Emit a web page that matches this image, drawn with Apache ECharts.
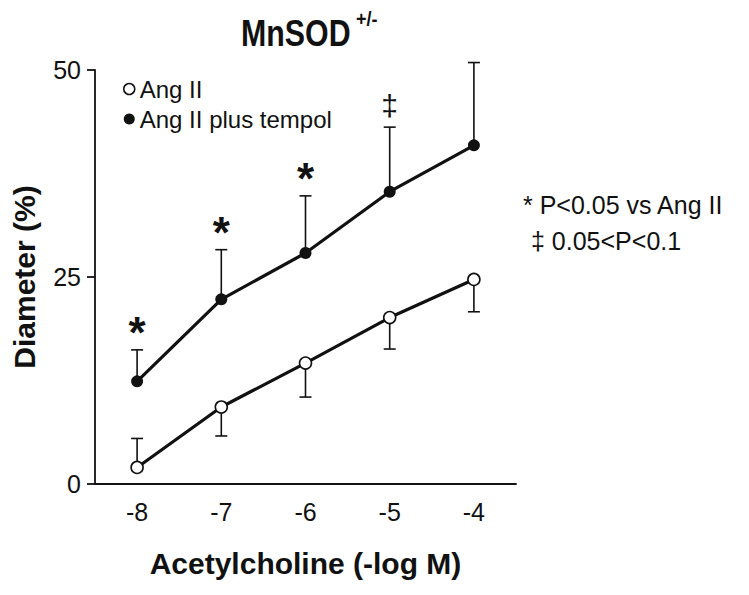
<!DOCTYPE html>
<html>
<head>
<meta charset="utf-8">
<script src="https://cdn.jsdelivr.net/npm/echarts@6/dist/echarts.min.js"></script>
<style>
html,body{margin:0;padding:0;background:#fff;}
#main{width:749px;height:595px;}
</style>
</head>
<body>
<div id="main"></div>
<script>
// ---- data ----
var categories = ['-8', '-7', '-6', '-5', '-4'];
var angII = [2.0, 9.3, 14.6, 20.1, 24.7];
var angIIErrEnd = [5.5, 5.8, 10.5, 16.3, 20.8];
var tempol = [12.4, 22.3, 27.9, 35.3, 40.9];
var tempolErrEnd = [16.2, 28.3, 34.8, 43.1, 50.9];
var marks = ['*', '*', '*', '\u2021', ''];
var yTicks = [0, 25, 50];

var FONT = '"Liberation Sans", Arial, Helvetica, sans-serif';
var INK = '#111';

function errData(vals, ends) {
  return vals.map(function (v, i) { return [i, v, ends[i]]; });
}

function renderErr(params, api) {
  var s = api.coord([api.value(0), api.value(1)]);
  var e = api.coord([api.value(0), api.value(2)]);
  var hw = 6;
  return {
    type: 'group',
    children: [
      { type: 'line', shape: { x1: s[0], y1: s[1], x2: e[0], y2: e[1] }, style: { stroke: INK, lineWidth: 1.6 } },
      { type: 'line', shape: { x1: e[0] - hw, y1: e[1], x2: e[0] + hw, y2: e[1] }, style: { stroke: INK, lineWidth: 1.6 } }
    ]
  };
}

function renderMark(params, api) {
  var i = api.value(0);
  var txt = marks[i];
  if (!txt) { return null; }
  var p = api.coord([i, api.value(1)]);
  var isStar = txt === '*';
  return {
    type: 'text',
    x: p[0],
    y: p[1] + (isStar ? -17 : -22),
    style: {
      text: txt,
      fontSize: isStar ? 44 : 30,
      fontWeight: isStar ? 'bold' : 'normal',
      fontFamily: FONT,
      fill: INK,
      align: 'center',
      verticalAlign: 'middle'
    }
  };
}

var chart = echarts.init(document.getElementById('main'), null, { renderer: 'svg' });
chart.setOption({
  animation: false,
  backgroundColor: '#fff',
  grid: { left: 95, right: 233, top: 70, bottom: 111, containLabel: false },
  legend: {
    orient: 'vertical',
    left: 118,
    top: 72,
    itemWidth: 11,
    itemHeight: 11,
    itemGap: 6,
    icon: 'circle',
    textStyle: { fontSize: 24, fontFamily: FONT, color: INK, lineHeight: 24 },
    data: [
      { name: 'Ang II', itemStyle: { color: '#fff', borderColor: INK, borderWidth: 1.5 } },
      { name: 'Ang II plus tempol', itemStyle: { color: INK, borderColor: INK, borderWidth: 0 } }
    ]
  },
  xAxis: {
    type: 'category',
    data: categories,
    boundaryGap: true,
    name: 'Acetylcholine (-log M)',
    nameLocation: 'middle',
    nameGap: 64,
    nameTextStyle: { fontSize: 30, fontWeight: 'bold', fontFamily: FONT, color: INK },
    axisLine: { lineStyle: { color: INK, width: 1.8 } },
    axisTick: { alignWithLabel: true, length: 8, lineStyle: { color: INK, width: 1.8 } },
    axisLabel: { fontSize: 25, fontFamily: FONT, color: INK, margin: 15 },
    splitLine: { show: false }
  },
  yAxis: {
    type: 'value',
    min: 0,
    max: 50,
    interval: 25,
    name: 'Diameter (%)',
    nameLocation: 'middle',
    nameRotate: 90,
    nameGap: 56,
    nameTextStyle: { fontSize: 30, fontWeight: 'bold', fontFamily: FONT, color: INK },
    axisLine: { show: true, lineStyle: { color: INK, width: 1.8 } },
    axisTick: { show: true, length: 8, lineStyle: { color: INK, width: 1.8 } },
    axisLabel: {
      fontSize: 25, fontFamily: FONT, color: INK, margin: 14,
      formatter: function (v) { return yTicks.indexOf(v) >= 0 ? String(v) : ''; }
    },
    splitLine: { show: false }
  },
  graphic: [
    { type: 'text', x: 241, y: 33, scaleX: 0.82, style: { text: 'MnSOD', fontSize: 37, fontWeight: 'bold', fontFamily: FONT, fill: INK, verticalAlign: 'middle', align: 'left' } },
    { type: 'text', x: 356, y: 19, scaleX: 0.9, style: { text: '+/-', fontSize: 20, fontWeight: 'bold', fontFamily: FONT, fill: INK, verticalAlign: 'middle', align: 'left' } },
    { type: 'text', left: 523, top: 192, style: { text: '* P<0.05 vs Ang II', fontSize: 25, fontFamily: FONT, fill: INK } },
    { type: 'text', left: 531, top: 228, style: { text: '\u2021 0.05<P<0.1', fontSize: 25, fontFamily: FONT, fill: INK } }
  ],
  series: [
    {
      name: 'Ang II err', type: 'custom', renderItem: renderErr, data: errData(angII, angIIErrEnd), z: 1, silent: true
    },
    {
      name: 'Ang II plus tempol err', type: 'custom', renderItem: renderErr, data: errData(tempol, tempolErrEnd), z: 1, silent: true
    },
    {
      name: 'Ang II', type: 'line', data: angII, z: 3,
      symbol: 'circle', symbolSize: 12, showSymbol: true,
      lineStyle: { color: INK, width: 3.2 },
      itemStyle: { color: '#fff', borderColor: INK, borderWidth: 1.6 }
    },
    {
      name: 'Ang II plus tempol', type: 'line', data: tempol, z: 3,
      symbol: 'circle', symbolSize: 12, showSymbol: true,
      lineStyle: { color: INK, width: 3.2 },
      itemStyle: { color: INK, borderColor: INK, borderWidth: 0 }
    },
    {
      name: 'marks', type: 'custom', renderItem: renderMark,
      data: tempolErrEnd.map(function (v, i) { return [i, v]; }), z: 4, silent: true
    }
  ]
});
</script>
</body>
</html>
